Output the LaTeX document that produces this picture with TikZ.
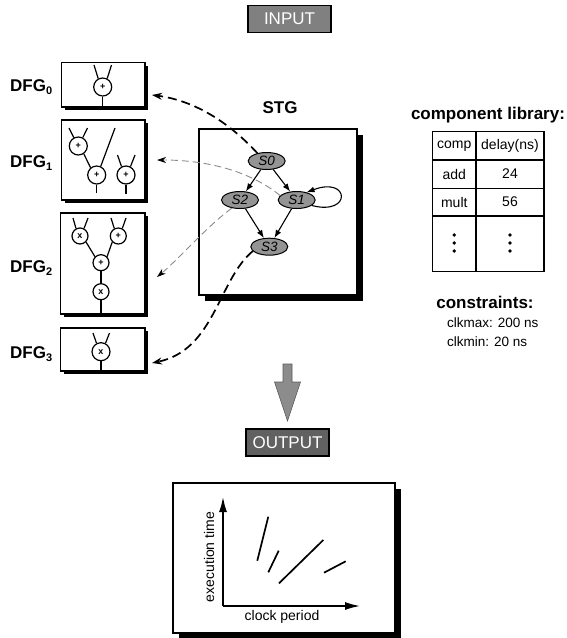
\documentclass[tikz,border=0pt]{standalone}
\usepackage{fontspec}
\setmainfont{Liberation Sans}
\usetikzlibrary{arrows.meta,shapes.geometric,shadows,calc}
\begin{document}
\begin{tikzpicture}[x=1pt,y=-1pt,
  lbl/.style={font=\bfseries\fontsize{17}{19}\selectfont, inner sep=0},
  dfgbox/.style={draw, line width=1.5pt, fill=white, inner sep=0, outer sep=0,
     drop shadow={shadow xshift=3pt, shadow yshift=-3pt, fill=black, opacity=1}},
  bigbox/.style={draw, line width=1.5pt, fill=white, inner sep=0, outer sep=0,
     drop shadow={shadow xshift=6pt, shadow yshift=-6pt, fill=black, opacity=1}},
  op/.style={draw, circle, line width=1.2pt, minimum size=18pt, inner sep=0, font=\bfseries\fontsize{9}{9}\selectfont},
  opsm/.style={op, minimum size=16pt},
  wire/.style={line width=1.2pt},
  state/.style={draw, ellipse, fill=black!42, minimum width=37pt, minimum height=17pt, inner sep=0, line width=1pt, font=\itshape\fontsize{13.5}{14}\selectfont},
  tr/.style={-{Latex[length=8pt,width=6pt]}, line width=1.1pt},
  thickdash/.style={dash pattern=on 9pt off 5pt, line width=1.7pt, -{Stealth[length=10pt,width=7pt,color=black]}},
  thindash/.style={dash pattern=on 7pt off 4pt, line width=0.9pt, draw=black!45, -{Stealth[length=9pt,width=6pt,color=black]}},
  tabtxt/.style={font=\fontsize{14}{15}\selectfont, inner sep=0},
  dot/.style={circle, fill=black, inner sep=0, minimum size=3.8pt},
  small/.style={font=\fontsize{13.5}{15}\selectfont, inner sep=0},
  iobox/.style={draw=black, line width=1.4pt, text=white, font=\fontsize{17}{19}\selectfont, minimum width=83pt, minimum height=27pt, inner sep=0},
  axis/.style={line width=1.5pt, -{Latex[length=15pt,width=8pt]}},
  curve/.style={line width=1.7pt}
]
\useasboundingbox (0,0) rectangle (567,638);

% ---------- INPUT ----------
\node[iobox, fill=black!50] (input) at (289.5,19) {INPUT};

% ---------- DFG boxes ----------
\node[dfgbox, minimum width=83.5pt, minimum height=44.5pt] (d0) at (103.25,84.75) {};
\node[dfgbox, minimum width=83.5pt, minimum height=80pt] (d1) at (103.25,160) {};
\node[dfgbox, minimum width=84.5pt, minimum height=101pt] (d2) at (102.75,263.5) {};
\node[dfgbox, minimum width=84.5pt, minimum height=43pt] (d3) at (102.75,349.5) {};

\node[lbl, anchor=west] (l0) at (10,87) {DFG\raisebox{-3pt}{\fontsize{11}{11}\selectfont 0}};
\node[lbl, anchor=west] (l1) at (10,163) {DFG\raisebox{-3pt}{\fontsize{11}{11}\selectfont 1}};
\node[lbl, anchor=west] (l2) at (10,268) {DFG\raisebox{-3pt}{\fontsize{11}{11}\selectfont 2}};
\node[lbl, anchor=west] (l3) at (10,354) {DFG\raisebox{-3pt}{\fontsize{11}{11}\selectfont 3}};

% DFG0
\node[op] (d0a) at (102.7,87) {+};
\coordinate (d0i1) at (94,65);
\coordinate (d0i2) at (111.5,65);
\coordinate (d0o) at (102.7,107);
\draw[wire] (d0a.118) -- (d0i1);
\draw[wire] (d0a.62) -- (d0i2);
\draw[wire] (d0a.south) -- (d0o);

% DFG1
\node[op] (d1a) at (78.3,146) {+};
\node[op] (d1b) at (96.7,175) {+};
\node[op] (d1c) at (126,175) {+};
\coordinate (d1i1) at (69,128);
\coordinate (d1i2) at (87.5,128);
\coordinate (d1i3) at (115,128);
\coordinate (d1i4) at (117.5,155);
\coordinate (d1i5) at (135,155);
\coordinate (d1o1) at (96.7,193);
\coordinate (d1o2) at (126,194);
\draw[wire] (d1a.118) -- (d1i1);
\draw[wire] (d1a.62) -- (d1i2);
\draw[wire] (d1a.-55) -- (d1b.130);
\draw[wire] (d1b.65) -- (d1i3);
\draw[wire] (d1b.south) -- (d1o1);
\draw[wire] (d1c.118) -- (d1i4);
\draw[wire] (d1c.62) -- (d1i5);
\draw[wire] (d1c.south) -- (d1o2);

% DFG2
\node[opsm] (d2a) at (80,236) {x};
\node[opsm] (d2b) at (118.3,236) {+};
\node[opsm] (d2c) at (101,262.7) {+};
\node[opsm] (d2d) at (101,291.7) {x};
\coordinate (d2i1) at (73,218);
\coordinate (d2i2) at (88,218);
\coordinate (d2i3) at (111,218);
\coordinate (d2i4) at (126,218);
\coordinate (d2o) at (101,313);
\draw[wire] (d2a.118) -- (d2i1);
\draw[wire] (d2a.62) -- (d2i2);
\draw[wire] (d2b.118) -- (d2i3);
\draw[wire] (d2b.62) -- (d2i4);
\draw[wire] (d2a.-45) -- (d2c.135);
\draw[wire] (d2b.-135) -- (d2c.45);
\draw[wire] (d2c.south) -- (d2d.north);
\draw[wire] (d2d.south) -- (d2o);

% DFG3
\node[op] (d3a) at (101,351.7) {x};
\coordinate (d3i1) at (93,333);
\coordinate (d3i2) at (109.5,333);
\coordinate (d3o) at (101,370);
\draw[wire] (d3a.118) -- (d3i1);
\draw[wire] (d3a.62) -- (d3i2);
\draw[wire] (d3a.south) -- (d3o);

% ---------- STG ----------
\node[lbl] (stgl) at (280,108) {STG};
\node[bigbox, minimum width=158pt, minimum height=166pt] (stg) at (278,212) {};

\node[state] (s0) at (266.7,161) {S0};
\node[state] (s1) at (296.7,200) {S1};
\node[state] (s2) at (240,200) {S2};
\node[state] (s3) at (269.3,246.7) {S3};
\draw[tr] (s0) -- (s2);
\draw[tr] (s0) -- (s1);
\draw[tr] (s2) -- (s3);
\draw[tr] (s1) -- (s3);
\draw[tr] (s1.-20) .. controls (352,216) and (350,176) .. (s1.38);

% dashed mapping arrows
\coordinate (a0) at (152,95);
\coordinate (a1) at (157,160);
\coordinate (a2) at (157,277);
\coordinate (a3) at (152,363);
\draw[thickdash] (s0.140) .. controls (225,118) and (190,100) .. (a0);
\draw[thindash] (s1.165) .. controls (255,175) and (215,160) .. (a1);
\draw[thindash] (s2.225) .. controls (205,228) and (180,258) .. (a2);
\draw[thickdash] (s3.195) .. controls (218,280) and (215,350) .. (a3);

% ---------- component library ----------
\node[lbl] (libl) at (488,115) {component library:};
\node[draw, line width=1.5pt, minimum width=111.3pt, minimum height=140pt, inner sep=0, outer sep=0] (tab) at (488.35,201.7) {};
\draw[line width=1.2pt] (476,131.7) -- (476,271.7);
\draw[line width=1.2pt] (432.7,160) -- (544,160);
\draw[line width=1.2pt] (432.7,188.3) -- (544,188.3);
\draw[line width=1.2pt] (432.7,216) -- (544,216);
\node[tabtxt] (tc1) at (454.3,146) {comp};
\node[tabtxt] (tc2) at (510,146) {delay(ns)};
\node[tabtxt] (tr1) at (454.3,174) {add};
\node[tabtxt] (tr2) at (510,174) {24};
\node[tabtxt] (tr3) at (454.3,202) {mult};
\node[tabtxt] (tr4) at (510,202) {56};
\foreach \yy [count=\i] in {235,243,251} {
  \node[dot] (da\i) at (454.3,\yy) {};
  \node[dot] (db\i) at (510,\yy) {};
}

% ---------- constraints ----------
\node[lbl] (conl) at (485,302) {constraints:};
\node[small, anchor=west] (cmax) at (447,323) {clkmax: 200 ns};
\node[small, anchor=west] (cmin) at (447,342) {clkmin: 20 ns};

% ---------- big arrow ----------
\coordinate (ba) at (287.5,364);
\coordinate (bb) at (287.5,421);
\draw[fill=black!45, draw=black!65, line width=0.6pt]
  (283,364) -- (292,364) -- (292,382) -- (300.5,382) -- (bb) -- (274.5,382) -- (283,382) -- cycle;

% ---------- OUTPUT ----------
\node[iobox, fill=black!62] (output) at (287.5,442.5) {OUTPUT};

\node[bigbox, minimum width=222pt, minimum height=150pt] (plot) at (284,558) {};
\coordinate (o) at (223,606);
\coordinate (ya) at (223,497);
\coordinate (xa) at (360,606);
\draw[axis] (o) -- (ya);
\draw[axis] (o) -- (xa);
\node[font=\fontsize{14}{15}\selectfont, rotate=90, inner sep=0] (yl) at (209,557) {execution time};
\node[font=\fontsize{14}{15}\selectfont, inner sep=0] (xl) at (282,617) {clock period};
\draw[curve] (268.3,516.7) -- (257.3,560.7);
\draw[curve] (278.7,550.7) -- (268.3,572.3);
\draw[curve] (323.3,540) -- (279,583.3);
\draw[curve] (345.7,561.3) -- (324,572.7);
\end{tikzpicture}
\end{document}
